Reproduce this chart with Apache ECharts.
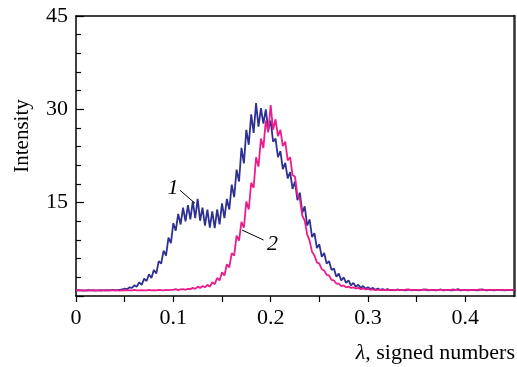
<!DOCTYPE html>
<html>
<head>
<meta charset="utf-8">
<script src="https://cdn.jsdelivr.net/npm/echarts@6/dist/echarts.min.js"></script>
<style>html,body{margin:0;padding:0;background:#fff}#c{width:517px;height:367px}</style>
</head>
<body>
<div id="c"></div>
<script>
// x grid of the spectra
const xStart = 0;
const xStep = 0.0025;

// curve 1 (blue)
const curve1 = [
0.9,0.95,0.9,0.85,0.9,0.95,0.9,0.9,0.85,0.9,0.95,0.9,0.9,0.95,0.9,1.0,0.9,0.95,1.0,
1.05,1.2,1.1,1.4,1.3,1.7,1.5,2.2,1.8,2.8,2.4,3.5,2.9,4.2,3.6,5.6,5.2,7.3,6.5,9.4,8.5,
11.7,10.5,13.2,11.5,14.2,12.0,14.6,12.3,15.2,12.5,15.6,12.1,14.2,11.3,13.9,11.0,13.6,10.9,13.9,11.5,
14.9,12.5,15.6,13.9,17.9,15.9,20.3,18.4,23.8,21.3,26.7,24.3,29.2,26.2,31.0,27.2,30.2,27.7,30.0,26.7,
28.2,24.8,25.3,22.3,23.3,20.4,21.4,18.9,19.9,17.2,18.4,15.4,16.6,13.4,14.4,11.3,12.3,9.5,10.1,7.7,
8.3,6.3,6.9,5.2,5.6,4.2,4.4,3.1,3.6,2.5,3.0,2.1,2.5,1.7,2.1,1.5,1.8,1.3,1.6,1.2,
1.4,1.1,1.3,1.0,1.2,1.0,1.1,0.95,1.1,
0.95,1.0,0.9,1.05,0.95,1.0,0.9,0.95,1.05,0.9,1.0,0.95,0.9,1.0,1.05,0.95,0.9,1.0,0.95,0.9,
1.0,1.05,0.9,0.95,1.0,0.9,0.95,1.0,1.1,0.9,0.95,1.0,0.9,0.95,1.0,0.95,0.9,1.0,1.05,0.95,
0.9,1.0,0.95,0.9,1.0,0.95,1.0,0.9,0.95,1.0,0.95,0.9
];

// curve 2 (magenta)
const curve2 = [
0.9,0.9,0.95,0.9,0.85,0.9,0.9,0.95,0.9,0.9,0.85,0.9,0.95,0.9,0.9,0.9,0.95,0.9,0.85,0.9,
0.9,0.95,0.9,0.9,1.0,0.9,0.9,0.95,0.9,0.9,1.0,0.9,0.95,0.9,1.0,0.95,0.9,1.0,0.95,1.0,
1.0,1.1,0.95,1.05,1.1,1.0,1.15,1.1,1.3,1.15,1.5,1.3,1.6,1.4,1.8,1.5,2.2,1.9,2.9,2.5,
3.8,3.3,5.1,4.6,6.9,6.5,9.7,8.9,11.9,11.0,15.2,13.9,18.2,17.4,22.3,20.8,25.3,23.8,28.2,26.3,
30.7,26.7,28.4,25.7,26.7,24.1,24.8,21.8,22.3,19.4,19.2,16.2,15.6,12.9,12.1,9.9,8.9,7.1,6.5,5.4,
5.2,4.3,4.1,3.4,3.3,2.6,2.5,2.0,2.0,1.6,1.7,1.4,1.5,1.3,1.4,1.2,1.3,1.1,1.2,1.05,
1.15,
1.0,1.05,0.95,1.0,1.0,0.95,1.0,0.95,1.0,1.0,0.95,1.0,1.0,0.95,1.0,1.05,1.0,0.95,1.0,1.0,
0.95,1.0,1.0,1.05,0.95,1.0,1.0,0.95,1.0,1.0,1.0,0.95,1.0,1.0,1.05,1.0,0.95,1.0,1.0,0.95,
1.0,1.0,0.95,1.0,1.0,1.05,0.95,1.0,1.0,0.95,1.0,1.0,0.95,1.0,1.0,0.95,1.0,1.0,1.0,1.0
];

// annotations (data coordinates)
const label1 = [0.0996, 17.3];
const leader1 = [[0.1068, 17.0], [0.1223, 14.9]];
const label2 = [0.202, 8.3];
const leader2 = [[0.1706, 10.6], [0.1927, 9.0]];

const xMin = 0, xMax = 0.45, xTick = 0.05;
const yMin = 0, yMax = 45, yTick = 15;

const toPairs = arr => arr.map((v, i) => [+(xStart + i * xStep).toFixed(4), v]);

const font = '"Liberation Serif", "DejaVu Serif", serif';
const chart = echarts.init(document.getElementById('c'), null, {renderer: 'canvas'});

function annot(lbl, leader) {
  return {
    markLine: {
      silent: true, symbol: ['none', 'none'], animation: false,
      lineStyle: {color: '#000', width: 1, type: 'solid'},
      label: {show: false},
      data: [[{coord: leader[0]}, {coord: leader[1]}]]
    },
    markPoint: {
      silent: true, symbol: 'circle', symbolSize: 0, animation: false,
      label: {show: true, position: 'inside', formatter: lbl.text, color: '#000',
        fontFamily: font, fontStyle: 'italic', fontSize: 22},
      data: [{coord: lbl.pos}]
    }
  };
}

chart.setOption({
  animation: false,
  backgroundColor: '#fff',
  grid: {left: 76, right: 3, top: 16, bottom: 71, containLabel: false},
  xAxis: [{
    type: 'value', min: xMin, max: xMax, interval: xTick,
    axisLine: {show: true, onZero: false, lineStyle: {color: '#000', width: 1.5}},
    axisTick: {show: true, inside: false, length: 6, lineStyle: {color: '#000', width: 1.2}},
    axisLabel: {
      margin: 11, color: '#000', fontFamily: font, fontSize: 22,
      showMaxLabel: false,
      formatter: v => (Math.round(v * 100) % 10 === 0 && v < 0.449) ? String(+v.toFixed(1)) : ''
    },
    splitLine: {show: false}
  }, {
    type: 'value', min: xMin, max: xMax, position: 'top',
    axisLine: {show: true, onZero: false, lineStyle: {color: '#000', width: 1.5}},
    axisTick: {show: false}, axisLabel: {show: false}, splitLine: {show: false}
  }],
  yAxis: [{
    type: 'value', min: yMin, max: yMax, interval: yTick,
    axisLine: {show: true, onZero: false, lineStyle: {color: '#000', width: 1.5}},
    axisTick: {show: true, inside: true, length: 8, lineStyle: {color: '#000', width: 1.2}},
    minorTick: {show: true, splitNumber: 5, length: 5, lineStyle: {color: '#000', width: 1.2}},
    axisLabel: {margin: 8, color: '#000', fontFamily: font, fontSize: 22,
      formatter: v => v === 0 ? '' : String(v)},
    splitLine: {show: false}
  }, {
    type: 'value', min: yMin, max: yMax, position: 'right',
    axisLine: {show: true, onZero: false, lineStyle: {color: '#333', width: 2.5}},
    axisTick: {show: false}, axisLabel: {show: false}, splitLine: {show: false}
  }],
  series: [
    Object.assign({
      type: 'line', name: '1', data: toPairs(curve1), showSymbol: false, symbol: 'none',
      lineStyle: {color: '#2E3192', width: 1.8}, itemStyle: {color: '#2E3192'}, z: 2
    }, annot({text: '1', pos: label1}, leader1)),
    Object.assign({
      type: 'line', name: '2', data: toPairs(curve2), showSymbol: false, symbol: 'none',
      lineStyle: {color: '#EC1C8C', width: 1.8}, itemStyle: {color: '#EC1C8C'}, z: 3
    }, annot({text: '2', pos: label2}, leader2))
  ],
  graphic: [
    {type: 'text', x: 22, y: 136, rotation: Math.PI / 2,
      style: {text: 'Intensity', font: '21px ' + font, fill: '#000', align: 'center', verticalAlign: 'middle'}},
    {type: 'text', x: 515, y: 353,
      style: {text: '{i|λ}, signed numbers', font: '22px ' + font, fill: '#000', align: 'right', verticalAlign: 'middle',
        rich: {i: {fontStyle: 'italic', fontFamily: font, fontSize: 22, fill: '#000'}}}}
  ]
});
</script>
</body>
</html>
